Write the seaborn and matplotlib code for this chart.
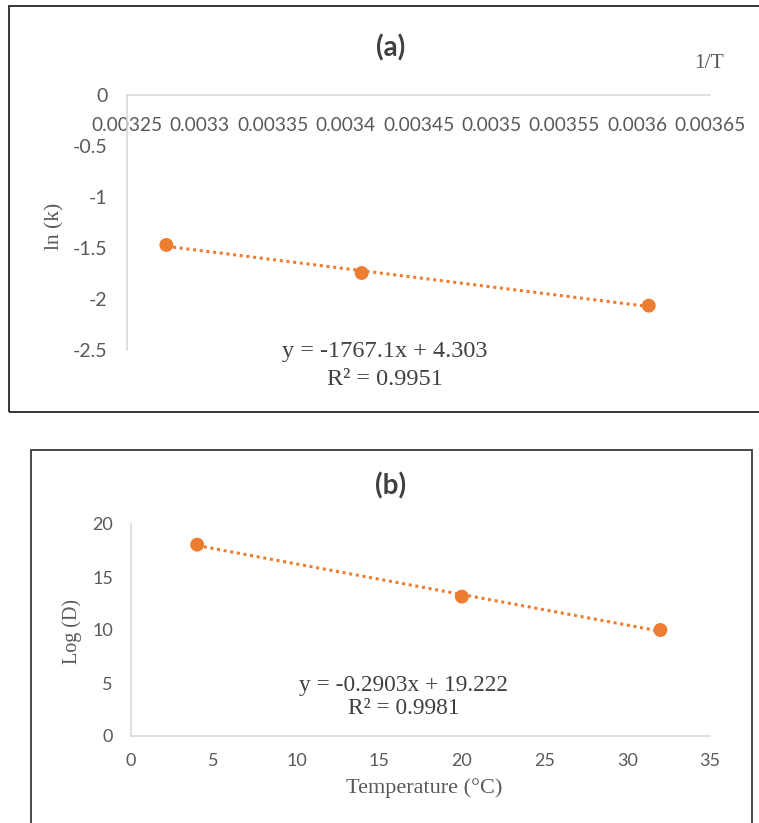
import matplotlib
matplotlib.use("Agg")
import matplotlib.pyplot as plt
import seaborn as sns
import numpy as np
import pandas as pd
from matplotlib.patches import Rectangle

sns.set_theme(style="white")
plt.rcParams['font.family'] = ['Lato', 'DejaVu Sans']

# Panel (a) data
inv_T = [0.003277, 0.003411, 0.003608]
ln_k = [-1.47, -1.745, -2.065]
a_xticks = [0.00325, 0.0033, 0.00335, 0.0034, 0.00345, 0.0035, 0.00355, 0.0036, 0.00365]
a_xticklabels = ["0.00325", "0.0033", "0.00335", "0.0034", "0.00345", "0.0035", "0.00355", "0.0036", "0.00365"]
a_yticks = [0, -0.5, -1, -1.5, -2, -2.5]
a_yticklabels = ["0", "-0.5", "-1", "-1.5", "-2", "-2.5"]
a_eq = "y = -1767.1x + 4.303\nR² = 0.9951"

# Panel (b) data
temp_c = [4, 20, 32]
log_d = [18.05, 13.15, 10.0]
b_xticks = [0, 5, 10, 15, 20, 25, 30, 35]
b_yticks = [0, 5, 10, 15, 20]
b_eq = "y = -0.2903x + 19.222\nR² = 0.9981"

ORANGE = "#ED7D31"
TICKC = "#595959"
SPINEC = "#D9D9D9"
SERIF = ['Liberation Serif', 'DejaVu Serif']

W, H = 759, 823
fig = plt.figure(figsize=(W / 100, H / 100), dpi=100)

def fx(px):
    return px / W

def fy(py):
    return 1 - py / H

# Borders
fig.patches.append(Rectangle((fx(9), fy(412)), fx(800) - fx(9), fy(6) - fy(412),
                             transform=fig.transFigure, fill=False, edgecolor="#262626", lw=1.3))
fig.patches.append(Rectangle((fx(31), fy(830)), fx(752) - fx(31), fy(450) - fy(830),
                             transform=fig.transFigure, fill=False, edgecolor="#3a3a3a", lw=1.3))

# ---- Panel (a)
axa = fig.add_axes([fx(127), fy(350), fx(710) - fx(127), fy(95) - fy(350)])
dfa = pd.DataFrame({"x": inv_T, "y": ln_k})
sns.regplot(data=dfa, x="x", y="y", ax=axa, ci=None, truncate=True,
            scatter_kws=dict(s=100, color=ORANGE, edgecolor="none", alpha=1, zorder=3),
            line_kws=dict(color=ORANGE, ls=(0, (1, 1.2)), lw=2.2))
axa.set_xlim(0.00325, 0.00365)
axa.set_ylim(-2.5, 0)
axa.set_xticks(a_xticks)
axa.set_xticklabels(a_xticklabels)
axa.set_yticks(a_yticks)
axa.set_yticklabels(a_yticklabels)
axa.xaxis.set_ticks_position('top')
axa.tick_params(axis='x', top=False, bottom=False, labeltop=True, labelbottom=False,
                length=0, pad=-28, labelsize=13.8, labelcolor=TICKC)
axa.tick_params(axis='y', length=0, pad=14, labelsize=14, labelcolor=TICKC)
for s in ['right', 'bottom']:
    axa.spines[s].set_visible(False)
for s in ['left', 'top']:
    axa.spines[s].set_color(SPINEC)
    axa.spines[s].set_linewidth(1.2)
axa.set_xlabel("")
axa.set_ylabel("")
fig.text(fx(55), fy(226), "ln (k)", rotation=90, ha='center', va='center',
         fontsize=15.5, color=TICKC, family=SERIF)
fig.text(fx(391), fy(48), "(a)", ha='center', va='center', fontsize=20,
         fontweight='bold', color="#404040", family=['Lato', 'DejaVu Sans'])
fig.text(fx(709), fy(63), "1/T", ha='center', va='center', fontsize=15.5,
         color=TICKC, family=SERIF)
fig.text(fx(385), fy(352), "y = -1767.1x + 4.303", ha='center', va='center', fontsize=17.5,
         color="#404040", family=SERIF)
fig.text(fx(385), fy(380), "R² = 0.9951", ha='center', va='center', fontsize=17.5,
         color="#404040", family=SERIF)

# ---- Panel (b)
axb = fig.add_axes([fx(131), fy(736), fx(710) - fx(131), fy(524) - fy(736)])
dfb = pd.DataFrame({"x": temp_c, "y": log_d})
sns.regplot(data=dfb, x="x", y="y", ax=axb, ci=None, truncate=True,
            scatter_kws=dict(s=100, color=ORANGE, edgecolor="none", alpha=1, zorder=3),
            line_kws=dict(color=ORANGE, ls=(0, (1, 1.2)), lw=2.2))
axb.set_xlim(0, 35)
axb.set_ylim(0, 20)
axb.set_xticks(b_xticks)
axb.set_yticks(b_yticks)
axb.tick_params(axis='x', length=0, pad=12, labelsize=13, labelcolor=TICKC)
axb.tick_params(axis='y', length=0, pad=13, labelsize=13, labelcolor=TICKC)
for s in ['right', 'top']:
    axb.spines[s].set_visible(False)
for s in ['left', 'bottom']:
    axb.spines[s].set_color(SPINEC)
    axb.spines[s].set_linewidth(1.2)
axb.set_xlabel("")
axb.set_ylabel("")
fig.text(fx(72), fy(631), "Log (D)", rotation=90, ha='center', va='center',
         fontsize=14.5, color=TICKC, family=SERIF)
fig.text(fx(424), fy(788), "Temperature (°C)", ha='center', va='center',
         fontsize=16, color=TICKC, family=SERIF)
fig.text(fx(391), fy(486), "(b)", ha='center', va='center', fontsize=20,
         fontweight='bold', color="#404040", family=['Lato', 'DejaVu Sans'])
fig.text(fx(404), fy(685), "y = -0.2903x + 19.222", ha='center', va='center', fontsize=16.8,
         color="#404040", family=SERIF)
fig.text(fx(404), fy(709), "R² = 0.9981", ha='center', va='center', fontsize=16.8,
         color="#404040", family=SERIF)

fig.savefig("out.png", dpi=100)
